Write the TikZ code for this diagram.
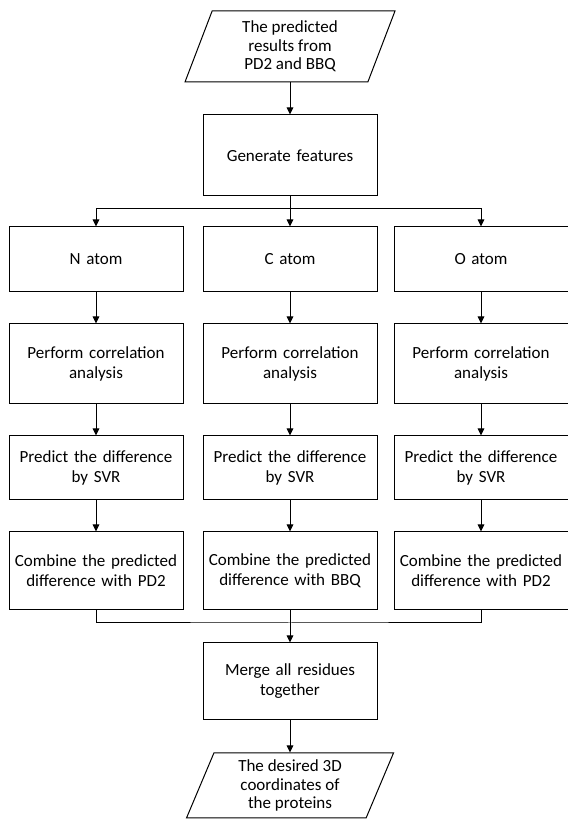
\documentclass[tikz,border=0pt]{standalone}
\usepackage{fontspec}
\setmainfont{Carlito}
\usetikzlibrary{positioning,shapes.geometric,arrows.meta}

\begin{document}
\begin{tikzpicture}[x=1pt,y=1pt,
  procBox/.style={draw=black,line width=1pt,minimum width=174pt,text width=168pt,align=center,inner sep=0pt,font=\fontsize{17}{20}\selectfont},
  ioBox/.style={trapezium,trapezium left angle=62,trapezium right angle=118,trapezium stretches body,draw=black,line width=1pt,align=center,inner sep=0pt,font=\fontsize{17}{18.5}\selectfont},
  flowArrow/.style={draw=black,line width=1pt,-{Triangle[length=7pt,width=6.5pt]}},
  flowLine/.style={draw=black,line width=1pt}]
\path[use as bounding box,fill=white] (0,0) rectangle (568,820);

\node[ioBox,minimum width=210pt,minimum height=71pt] (inPara) at (290,773.5) {The predicted\\results from\\PD2 and BBQ};
\node[procBox,minimum height=81pt] (genFeat) at (290,664.5) {Generate features};

\node[procBox,minimum height=65pt] (nAtom) at (96,560.5) {N atom};
\node[procBox,minimum height=65pt] (cAtom) at (290,560.5) {C atom};
\node[procBox,minimum height=65pt] (oAtom) at (481,560.5) {O atom};

\node[procBox,minimum height=80pt] (nCorr) at (96,456) {Perform correlation\\analysis};
\node[procBox,minimum height=80pt] (cCorr) at (290,456) {Perform correlation\\analysis};
\node[procBox,minimum height=80pt] (oCorr) at (481,456) {Perform correlation\\analysis};

\node[procBox,minimum height=64pt] (nSvr) at (96,352) {Predict the difference\\by SVR};
\node[procBox,minimum height=64pt] (cSvr) at (290,352) {Predict the difference\\by SVR};
\node[procBox,minimum height=64pt] (oSvr) at (481,352) {Predict the difference\\by SVR};

\node[procBox,minimum height=78pt] (nComb) at (96,249) {Combine the predicted\\difference with PD2};
\node[procBox,minimum height=78pt] (cComb) at (290,249) {Combine the predicted\\difference with BBQ};
\node[procBox,minimum height=78pt] (oComb) at (481,249) {Combine the predicted\\difference with PD2};

\node[procBox,minimum height=77pt] (mergeRes) at (290,138.5) {Merge all residues\\together};
\node[ioBox,minimum width=207pt,minimum height=65pt] (outPara) at (290,34.5) {The desired 3D\\coordinates of\\the proteins};

\coordinate (splitPt) at (290,611);
\coordinate (joinPt) at (290,197);

\draw[flowArrow] (inPara) -- (genFeat);
\draw[flowLine] (genFeat) -- (splitPt);
\draw[flowArrow] (splitPt) -| (nAtom);
\draw[flowArrow] (splitPt) -- (cAtom);
\draw[flowArrow] (splitPt) -| (oAtom);

\foreach \col in {n,c,o}{
  \draw[flowArrow] (\col Atom) -- (\col Corr);
  \draw[flowArrow] (\col Corr) -- (\col Svr);
  \draw[flowArrow] (\col Svr) -- (\col Comb);
}

\draw[flowLine] (nComb) |- (joinPt) -| (oComb);
\draw[flowArrow] (cComb) -- (mergeRes);
\draw[flowArrow] (mergeRes) -- (outPara);
\end{tikzpicture}
\end{document}
